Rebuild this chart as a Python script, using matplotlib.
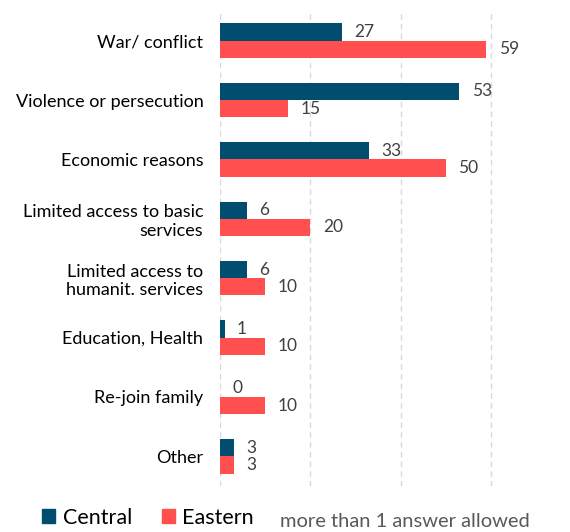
import matplotlib
matplotlib.use("Agg")
import matplotlib.pyplot as plt
from matplotlib.patches import Patch
import numpy as np

categories = ["War/ conflict", "Violence or persecution", "Economic reasons",
              "Limited access to basic\nservices", "Limited access to\nhumanit. services",
              "Education, Health", "Re-join family", "Other"]
central = [27, 53, 33, 6, 6, 1, 0, 3]
eastern = [59, 15, 50, 20, 10, 10, 10, 3]

c_central = "#014d70"
c_eastern = "#ff4f4f"
txt = "#404040"

plt.rcParams['font.family'] = ['Lato', 'DejaVu Sans']

fig = plt.figure(figsize=(5.7, 5.32), dpi=100)
ax = fig.add_axes([220 / 570, 1 - 486 / 532, 1 - 220 / 570, 475 / 532])

y = np.arange(len(categories))
h = 0.29
ax.barh(y - h / 2, central, height=h, color=c_central)
ax.barh(y + h / 2, eastern, height=h, color=c_eastern)

for i in range(len(categories)):
    ax.annotate(str(central[i]), (central[i], y[i] - h / 2), xytext=(9, 0),
                textcoords="offset points", va="center", ha="left", fontsize=12.5, color=txt)
    ax.annotate(str(eastern[i]), (eastern[i], y[i] + h / 2), xytext=(9, 0),
                textcoords="offset points", va="center", ha="left", fontsize=12.5, color=txt)

ax.set_ylim(len(categories) - 0.5, -0.5)
ax.set_xlim(0, 77.5)
ax.set_yticks(y)
ax.set_yticklabels(categories, fontsize=13, color="black")
ax.set_xticks([0, 20, 40, 60])
ax.tick_params(axis="y", length=0, pad=12)
ax.tick_params(axis="x", length=0, labelbottom=False)
for s in ax.spines.values():
    s.set_visible(False)
ax.grid(axis="x", color="#d9d9d9", linestyle=(0, (4, 3)), linewidth=1)
ax.set_axisbelow(True)

handles = [Patch(color=c_central, label="Central"), Patch(color=c_eastern, label="Eastern")]
fig.legend(handles=handles, loc="lower left", bbox_to_anchor=(0.04, -0.028), ncol=2,
           frameon=False, fontsize=15.5, handlelength=0.6, handleheight=0.6,
           handletextpad=0.35, columnspacing=1.4)
fig.text(280 / 570, 0.01, "more than 1 answer allowed", fontsize=14.5, color="#595959")

fig.savefig("out.png", dpi=100)
